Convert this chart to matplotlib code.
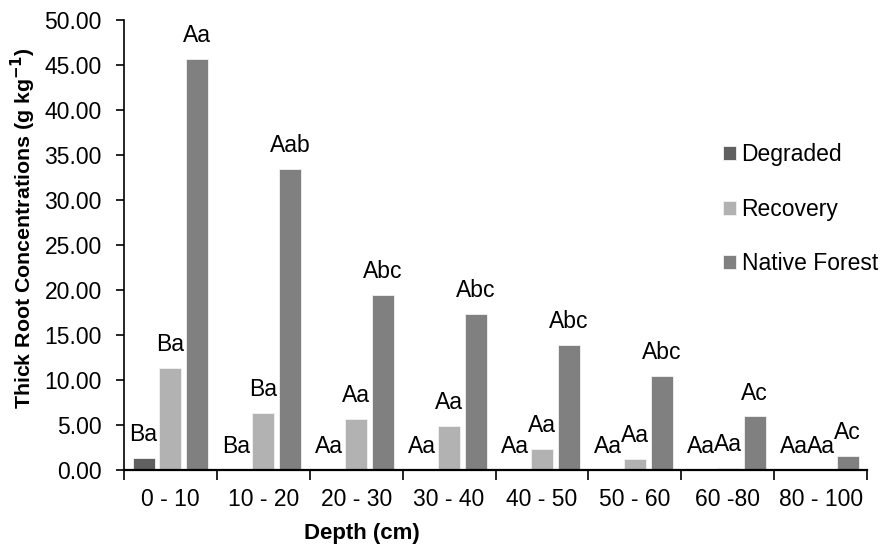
import numpy as np
import matplotlib
matplotlib.use("Agg")
import matplotlib.pyplot as plt

plt.rcParams["font.family"] = ["Liberation Sans", "DejaVu Sans"]

# ── data ───────────────────────────────────────────────────────────────────────
depths   = ["0 - 10", "10 - 20", "20 - 30", "30 - 40", "40 - 50", "50 - 60", "60 -80", "80 - 100"]
degraded = [1.30, 0.00, 0.00, 0.00, 0.00, 0.00, 0.00, 0.00]
recovery = [11.35, 6.30, 5.65, 4.90, 2.35, 1.20, 0.20, 0.00]
native   = [45.70, 33.40, 19.40, 17.30, 13.90, 10.50, 5.95, 1.55]

lab_degraded = ["Ba", "Ba", "Aa", "Aa", "Aa", "Aa", "Aa", "Aa"]
lab_recovery = ["Ba", "Ba", "Aa", "Aa", "Aa", "Aa", "Aa", "Aa"]
lab_native   = ["Aa", "Aab", "Abc", "Abc", "Abc", "Abc", "Ac", "Ac"]

series = [
    ("Degraded",      degraded, lab_degraded, "#606060"),
    ("Recovery",      recovery, lab_recovery, "#b2b2b2"),
    ("Native Forest", native,   lab_native,   "#808080"),
]

FS = 16.5

# ── figure ─────────────────────────────────────────────────────────────────────
fig = plt.figure(figsize=(8.86, 5.54), dpi=100)
ax = fig.add_axes([0.140, 0.1516, 0.8386, 0.8123])

x = np.arange(len(depths))
offsets = [-0.29, 0.0, 0.29]
width = 0.237

for (name, vals, labs, col), off in zip(series, offsets):
    ax.bar(x + off, vals, width, color=col, edgecolor="#f2f2f2",
           linewidth=0.6, label=name)
    for xi, v, lab in zip(x + off, vals, labs):
        ax.annotate(lab, (xi, v), xytext=(0, 12.2), textcoords="offset points",
                    ha="center", va="baseline", fontsize=FS)

ax.set_xlim(-0.5, len(depths) - 0.5)
ax.set_ylim(0, 50)
yt = np.arange(0, 51, 5)
ax.set_yticks(yt)
ax.set_yticklabels([f"{v:.2f}" for v in yt], fontsize=FS)

ax.set_xticks(x)
ax.set_xticklabels(depths, fontsize=FS)
ax.set_xticks(np.arange(-0.5, len(depths)), minor=True)
ax.tick_params(axis="x", which="major", length=0, pad=13)
ax.tick_params(axis="x", which="minor", length=7, width=1.2, direction="out")
ax.tick_params(axis="y", length=6, width=1.2, direction="out", pad=10)

for s in ["top", "right"]:
    ax.spines[s].set_visible(False)
ax.spines["left"].set_linewidth(1.2)
ax.spines["bottom"].set_linewidth(1.6)

fig.text(23 / 886, 1 - 228 / 554, "Thick Root Concentrations (g kg$\\mathbf{^{-1}}$)",
         rotation=90, ha="center", va="center", fontsize=15.4, fontweight="bold")
fig.text(362 / 886, 1 - 533 / 554, "Depth (cm)", ha="center", va="center",
         fontsize=16, fontweight="bold")

ax.legend(loc="upper left", bbox_to_anchor=(714 / 886, 1 - 134 / 554),
          bbox_transform=fig.transFigure, frameon=False, fontsize=FS,
          handlelength=0.55, handleheight=0.55, handletextpad=0.25,
          labelspacing=1.38, borderaxespad=0)

fig.savefig("out.png", dpi=100)
